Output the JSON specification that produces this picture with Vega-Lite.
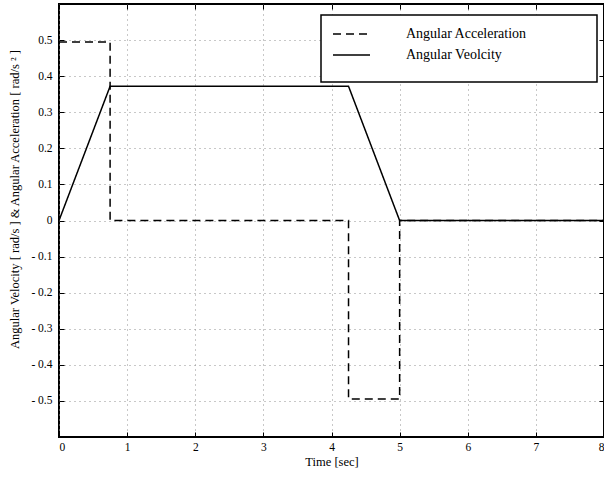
{
  "$schema": "https://vega.github.io/schema/vega-lite/v6.json",
  "width": 545,
  "height": 433,
  "autosize": {"type": "none"},
  "padding": {"left": 59, "top": 4, "right": 0, "bottom": 40},
  "background": "white",
  "config": {
    "font": "Liberation Serif",
    "view": {"stroke": "black", "strokeWidth": 2},
    "axis": {
      "labelFont": "Liberation Serif",
      "titleFont": "Liberation Serif",
      "labelFontSize": 11.5,
      "titleFontSize": 12.5,
      "titleFontWeight": "normal",
      "labelColor": "black",
      "titleColor": "black",
      "domain": false,
      "tickColor": "black",
      "tickSize": -5,
      "tickWidth": 1,
      "labelPadding": 12,
      "gridColor": "#909090",
      "gridDash": [1, 4],
      "gridWidth": 1
    }
  },
  "data": {
    "values": [
      {"series": "Angular Acceleration", "i": 0, "t": 0, "v": 0.495},
      {"series": "Angular Acceleration", "i": 1, "t": 0.75, "v": 0.495},
      {"series": "Angular Acceleration", "i": 2, "t": 0.75, "v": 0},
      {"series": "Angular Acceleration", "i": 3, "t": 4.25, "v": 0},
      {"series": "Angular Acceleration", "i": 4, "t": 4.25, "v": -0.495},
      {"series": "Angular Acceleration", "i": 5, "t": 5.0, "v": -0.495},
      {"series": "Angular Acceleration", "i": 6, "t": 5.0, "v": 0},
      {"series": "Angular Acceleration", "i": 7, "t": 8.0, "v": 0},
      {"series": "Angular Veolcity", "i": 0, "t": 0, "v": 0},
      {"series": "Angular Veolcity", "i": 1, "t": 0.75, "v": 0.372},
      {"series": "Angular Veolcity", "i": 2, "t": 4.25, "v": 0.372},
      {"series": "Angular Veolcity", "i": 3, "t": 5.0, "v": 0},
      {"series": "Angular Veolcity", "i": 4, "t": 8.0, "v": 0}
    ]
  },
  "resolve": {"axis": {"x": "independent", "y": "independent"}},
  "layer": [
    {
      "mark": {"type": "line", "color": "black", "strokeWidth": 1.5, "clip": true},
      "encoding": {
        "x": {
          "field": "t", "type": "quantitative",
          "scale": {"domain": [0, 8], "nice": false},
          "axis": {"title": "Time [sec]", "values": [0, 1, 2, 3, 4, 5, 6, 7, 8], "grid": true, "titlePadding": 3, "labelPadding": 9}
        },
        "y": {
          "field": "v", "type": "quantitative",
          "scale": {"domain": [-0.6, 0.6], "nice": false, "zero": false},
          "axis": {
            "title": "Angular Velocity [  rad/s  ] & Angular  Acceleration   [  rad/s ² ]",
            "values": [-0.5, -0.4, -0.3, -0.2, -0.1, 0, 0.1, 0.2, 0.3, 0.4, 0.5],
            "labelExpr": "datum.value < -0.001 ? '- ' + format(-datum.value, '.1f') : (abs(datum.value) < 0.001 ? '0' : format(datum.value, '.1f'))",
            "grid": true,
            "titlePadding": 9,
            "titleY": 195
          }
        },
        "strokeDash": {
          "field": "series", "type": "nominal",
          "scale": {"domain": ["Angular Acceleration", "Angular Veolcity"], "range": [[8, 5], [1, 0]]},
          "legend": {
            "title": "\u200b",
            "titleOrient": "bottom",
            "titleFontSize": 14,
            "titlePadding": 6,
            "orient": "none",
            "legendX": 262,
            "legendY": 11,
            "fillColor": "white",
            "strokeColor": "black",
            "padding": 0,
            "symbolType": "stroke",
            "symbolSize": 1369,
            "symbolOffset": 11,
            "symbolStrokeColor": "black",
            "symbolStrokeWidth": 1.5,
            "labelFont": "Liberation Serif",
            "labelFontSize": 14,
            "labelColor": "black",
            "labelOffset": 35,
            "labelLimit": 400,
            "rowPadding": 0,
            "labelExpr": "datum.label + '                    \u200b'",
            "encode": {
              "legend": {"update": {"strokeWidth": {"value": 1.5}}},
              "symbols": {"update": {"y": {"signal": "19 - datum.index * 5"}}},
              "labels": {"update": {"y": {"signal": "19 - datum.index * 5"}}}
            }
          }
        },
        "order": {"field": "i", "type": "quantitative"}
      }
    },
    {
      "mark": {"type": "point", "opacity": 0},
      "encoding": {
        "x": {
          "field": "t", "type": "quantitative",
          "axis": {"orient": "top", "labels": false, "title": null, "values": [0, 1, 2, 3, 4, 5, 6, 7, 8], "grid": false}
        },
        "y": {
          "field": "v", "type": "quantitative",
          "axis": {"orient": "right", "labels": false, "title": null, "values": [-0.5, -0.4, -0.3, -0.2, -0.1, 0, 0.1, 0.2, 0.3, 0.4, 0.5], "grid": false}
        }
      }
    }
  ]
}
